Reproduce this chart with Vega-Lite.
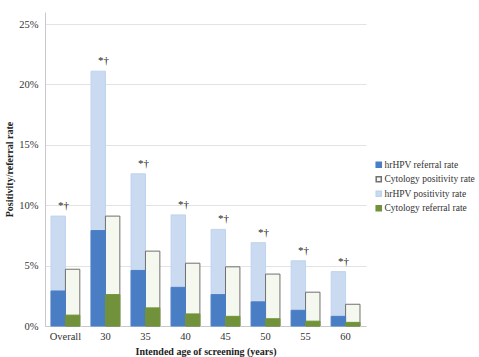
{
  "$schema": "https://vega.github.io/schema/vega-lite/v6.json",
  "autosize": {"type": "none"},
  "padding": {"left": 45, "top": 12, "right": 113, "bottom": 31},
  "width": 321,
  "height": 314,
  "background": "white",
  "config": {
    "font": "Liberation Serif",
    "view": {"stroke": null}
  },
  "data": {
    "values": [
      {"group": "Overall", "test": "hrHPV", "series": "hrHPV positivity rate", "value": 9.1},
      {"group": "30", "test": "hrHPV", "series": "hrHPV positivity rate", "value": 21.1},
      {"group": "35", "test": "hrHPV", "series": "hrHPV positivity rate", "value": 12.6},
      {"group": "40", "test": "hrHPV", "series": "hrHPV positivity rate", "value": 9.2},
      {"group": "45", "test": "hrHPV", "series": "hrHPV positivity rate", "value": 8.0},
      {"group": "50", "test": "hrHPV", "series": "hrHPV positivity rate", "value": 6.9},
      {"group": "55", "test": "hrHPV", "series": "hrHPV positivity rate", "value": 5.4},
      {"group": "60", "test": "hrHPV", "series": "hrHPV positivity rate", "value": 4.5},
      {"group": "Overall", "test": "Cytology", "series": "Cytology positivity rate", "value": 4.7},
      {"group": "30", "test": "Cytology", "series": "Cytology positivity rate", "value": 9.1},
      {"group": "35", "test": "Cytology", "series": "Cytology positivity rate", "value": 6.2},
      {"group": "40", "test": "Cytology", "series": "Cytology positivity rate", "value": 5.2},
      {"group": "45", "test": "Cytology", "series": "Cytology positivity rate", "value": 4.9},
      {"group": "50", "test": "Cytology", "series": "Cytology positivity rate", "value": 4.3},
      {"group": "55", "test": "Cytology", "series": "Cytology positivity rate", "value": 2.8},
      {"group": "60", "test": "Cytology", "series": "Cytology positivity rate", "value": 1.8},
      {"group": "Overall", "test": "hrHPV", "series": "hrHPV referral rate", "value": 2.9},
      {"group": "30", "test": "hrHPV", "series": "hrHPV referral rate", "value": 7.9},
      {"group": "35", "test": "hrHPV", "series": "hrHPV referral rate", "value": 4.6},
      {"group": "40", "test": "hrHPV", "series": "hrHPV referral rate", "value": 3.2},
      {"group": "45", "test": "hrHPV", "series": "hrHPV referral rate", "value": 2.6},
      {"group": "50", "test": "hrHPV", "series": "hrHPV referral rate", "value": 2.0},
      {"group": "55", "test": "hrHPV", "series": "hrHPV referral rate", "value": 1.3},
      {"group": "60", "test": "hrHPV", "series": "hrHPV referral rate", "value": 0.8},
      {"group": "Overall", "test": "Cytology", "series": "Cytology referral rate", "value": 0.9},
      {"group": "30", "test": "Cytology", "series": "Cytology referral rate", "value": 2.6},
      {"group": "35", "test": "Cytology", "series": "Cytology referral rate", "value": 1.5},
      {"group": "40", "test": "Cytology", "series": "Cytology referral rate", "value": 1.0},
      {"group": "45", "test": "Cytology", "series": "Cytology referral rate", "value": 0.8},
      {"group": "50", "test": "Cytology", "series": "Cytology referral rate", "value": 0.6},
      {"group": "55", "test": "Cytology", "series": "Cytology referral rate", "value": 0.4},
      {"group": "60", "test": "Cytology", "series": "Cytology referral rate", "value": 0.3}
    ]
  },
  "encoding": {
    "x": {
      "field": "group",
      "type": "nominal",
      "sort": ["Overall", "30", "35", "40", "45", "50", "55", "60"],
      "scale": {"paddingInner": 0.28, "paddingOuter": 0.15},
      "axis": {
        "title": "Intended age of screening (years)",
        "titleFont": "Liberation Serif",
        "titleFontSize": 10,
        "titleFontWeight": "bold",
        "titleColor": "#222",
        "titlePadding": 5,
        "labelAngle": 0,
        "labelFont": "Liberation Serif",
        "labelFontSize": 10.5,
        "labelColor": "#333",
        "labelPadding": 5,
        "ticks": false,
        "domainColor": "#c8c8c8"
      }
    }
  },
  "layer": [
    {
      "mark": {"type": "bar", "strokeWidth": 1},
      "encoding": {
        "xOffset": {"field": "test", "type": "nominal", "sort": ["hrHPV", "Cytology"]},
        "y": {
          "field": "value",
          "type": "quantitative",
          "stack": null,
          "scale": {"domain": [0, 25]},
          "axis": {
            "values": [0, 5, 10, 15, 20, 25],
            "labelExpr": "datum.value + '%'",
            "title": "Positivity/referral rate",
            "titleFont": "Liberation Serif",
            "titleFontSize": 10,
            "titleFontWeight": "bold",
            "titleColor": "#222",
            "titlePadding": 4,
            "labelFont": "Liberation Serif",
            "labelFontSize": 10.5,
            "labelColor": "#333",
            "labelPadding": 7,
            "ticks": false,
            "domainColor": "#c8c8c8",
            "gridColor": "#e3e3e3"
          }
        },
        "fill": {
          "field": "series",
          "type": "nominal",
          "scale": {
            "domain": ["hrHPV referral rate", "Cytology positivity rate", "hrHPV positivity rate", "Cytology referral rate"],
            "range": ["#4a7ec4", "#f4f8ee", "#c9daf1", "#71923a"]
          },
          "legend": {
            "title": null,
            "orient": "none",
            "legendX": 329,
            "legendY": 148,
            "symbolType": "square",
            "symbolSize": 26,
            "labelFont": "Liberation Serif",
            "labelFontSize": 9.5,
            "labelColor": "#333",
            "labelOffset": 1,
            "rowPadding": 2.5
          }
        },
        "stroke": {
          "field": "series",
          "type": "nominal",
          "scale": {
            "domain": ["hrHPV referral rate", "Cytology positivity rate", "hrHPV positivity rate", "Cytology referral rate"],
            "range": ["#4a7ec4", "#707070", "#c0d3ee", "#71923a"]
          }
        }
      }
    },
    {
      "transform": [{"filter": "datum.series === 'hrHPV positivity rate'"}],
      "mark": {"type": "text", "text": "*†", "font": "Liberation Serif", "fontSize": 11, "fill": "#222", "dx": -2, "dy": -10, "baseline": "middle"},
      "encoding": {
        "y": {"field": "value", "type": "quantitative"}
      }
    }
  ]
}
